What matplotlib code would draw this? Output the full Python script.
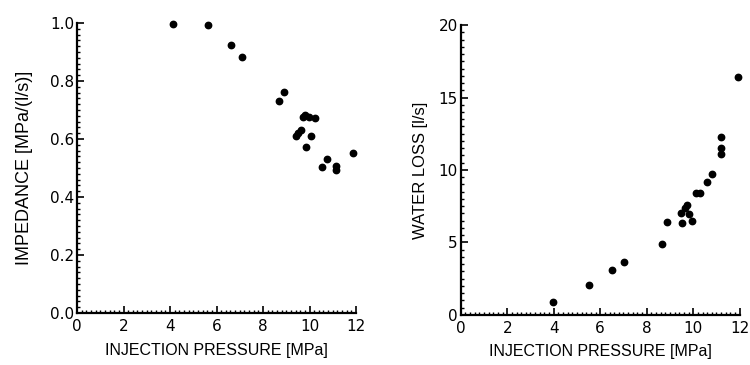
import numpy as np
import matplotlib.pyplot as plt
from matplotlib.ticker import MultipleLocator

plt.rcParams['font.family'] = ['Liberation Sans', 'DejaVu Sans']

# impedance vs injection pressure (left panel)
p_imp = [4.12, 5.62, 6.61, 7.11, 8.70, 8.90, 9.72, 9.82, 9.97, 10.25,
         9.42, 9.50, 9.62, 10.06, 9.85, 10.55, 10.74, 11.13, 11.14, 11.88]
impedance = [0.995, 0.993, 0.923, 0.882, 0.732, 0.762, 0.675, 0.682, 0.675, 0.671,
             0.610, 0.620, 0.632, 0.611, 0.571, 0.503, 0.530, 0.508, 0.493, 0.551]

# water loss vs injection pressure (right panel)
p_loss = [3.99, 5.51, 6.51, 7.02, 8.66, 8.86, 9.46, 9.53, 9.65, 9.74,
          9.82, 9.96, 10.10, 10.27, 10.60, 10.79, 11.21, 11.21, 11.21, 11.93]
water_loss = [0.87, 2.05, 3.08, 3.66, 4.92, 6.43, 7.01, 6.32, 7.36, 7.59,
              6.94, 6.50, 8.39, 8.39, 9.19, 9.70, 12.3, 11.49, 11.08, 16.4]


def style_axis(ax, ymajor, yminor):
    ax.spines['top'].set_visible(False)
    ax.spines['right'].set_visible(False)
    for s in ('left', 'bottom'):
        ax.spines[s].set_linewidth(1.6)
    ax.xaxis.set_major_locator(MultipleLocator(2))
    ax.xaxis.set_minor_locator(MultipleLocator(0.2))
    ax.yaxis.set_major_locator(MultipleLocator(ymajor))
    ax.yaxis.set_minor_locator(MultipleLocator(yminor))
    ax.tick_params(which='major', direction='in', length=5, width=1.2,
                   labelsize=11, pad=2)
    ax.tick_params(axis='x', which='major', pad=4)
    ax.tick_params(which='minor', direction='in', length=2.5, width=1.0)
    for lab in ax.get_xticklabels() + ax.get_yticklabels():
        lab.set_family(['DejaVu Sans'])
    ax.set_xlim(0, 12)


fig = plt.figure(figsize=(7.5, 3.65), dpi=100)
ax1 = fig.add_axes([0.1027, 0.1425, 0.372, 0.7945])
ax2 = fig.add_axes([0.6143, 0.137, 0.372, 0.7945])

ax1.plot(p_imp, impedance, 'o', color='black', ms=4.6, clip_on=False)
style_axis(ax1, 0.2, 0.02)
ax1.set_ylim(0, 1.0)
ax1.yaxis.set_major_formatter(plt.FormatStrFormatter('%.1f'))
ax1.set_xlabel('INJECTION PRESSURE [MPa]', fontsize=11.5, labelpad=7)
ax1.set_ylabel('IMPEDANCE [MPa/(l/s)]', fontsize=13, labelpad=12)

ax2.plot(p_loss, water_loss, 'o', color='black', ms=4.6, clip_on=False)
style_axis(ax2, 5, 0.5)
ax2.set_ylim(0, 20)
ax2.set_xlabel('INJECTION PRESSURE [MPa]', fontsize=11.5, labelpad=6)
ax2.set_ylabel('WATER LOSS [l/s]', fontsize=12, labelpad=8)

plt.savefig('out.png', dpi=100)
